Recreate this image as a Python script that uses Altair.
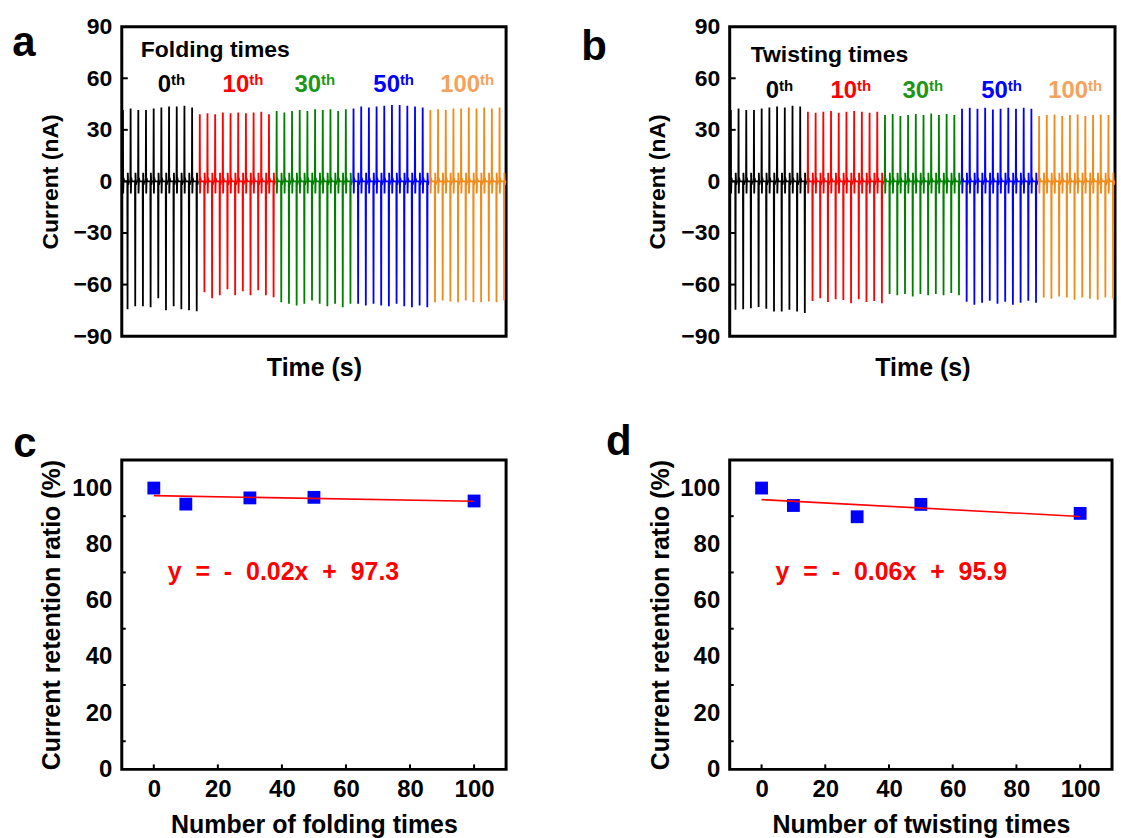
import altair as alt
import pandas as pd

# ---------------- DATA ----------------
segments = ["0th", "10th", "30th", "50th", "100th"]
seg_numbers = ["0", "10", "30", "50", "100"]
seg_line_colors = ["#000000", "#FF0000", "#008000", "#0000FF", "#F28A1A"]
seg_label_colors = ["#000000", "#FF0000", "#1E9619", "#0000FF", "#F4A25C"]

# positive / negative spike peaks (nA), 10 cycles per segment -- folding
fold_pos = [
    [41.5, 42.4, 41.6, 41.6, 42.4, 43.0, 43.6, 43.6, 44.0, 43.0],
    [39.1, 39.6, 39.1, 40.1, 39.6, 40.1, 39.6, 40.1, 40.6, 39.1],
    [41.0, 40.1, 41.0, 41.6, 41.0, 42.0, 41.6, 42.0, 41.0, 42.0],
    [42.4, 43.6, 43.0, 43.6, 44.0, 44.4, 44.4, 44.0, 43.6, 43.0],
    [41.6, 42.0, 41.6, 42.4, 42.4, 43.0, 42.4, 43.0, 42.4, 43.0],
]
fold_neg = [
    [-74.3, -72.6, -72.6, -73.2, -68.0, -74.9, -72.6, -74.3, -74.9, -75.5],
    [-64.5, -67.9, -66.2, -62.7, -66.2, -63.9, -66.2, -63.3, -66.2, -67.4],
    [-70.3, -71.2, -72.2, -71.2, -69.3, -71.2, -72.6, -71.2, -73.2, -71.2],
    [-71.2, -72.2, -71.2, -72.2, -72.6, -71.2, -72.6, -73.2, -72.2, -73.2],
    [-70.3, -69.3, -69.8, -70.3, -69.3, -70.3, -70.3, -69.8, -70.3, -69.3],
]
# -- twisting
twist_pos = [
    [41.5, 42.4, 41.6, 41.6, 42.4, 43.0, 43.6, 43.0, 44.0, 43.6],
    [40.5, 39.9, 40.5, 40.9, 39.9, 40.5, 40.9, 40.5, 39.9, 40.5],
    [38.6, 39.2, 38.0, 38.6, 39.2, 38.6, 39.5, 38.6, 39.2, 38.6],
    [42.2, 42.8, 42.2, 42.8, 41.8, 42.2, 42.8, 42.2, 42.8, 42.2],
    [38.0, 38.6, 38.9, 38.0, 38.6, 38.9, 38.0, 38.6, 38.9, 38.6],
]
twist_neg = [
    [-74.7, -74.3, -73.7, -73.1, -74.0, -75.6, -75.6, -74.7, -75.6, -76.6],
    [-69.5, -68.0, -70.2, -68.6, -69.0, -70.8, -68.6, -70.2, -69.5, -70.8],
    [-65.5, -66.2, -65.5, -66.9, -65.5, -66.2, -65.5, -66.2, -64.9, -66.2],
    [-70.0, -71.8, -70.6, -69.4, -71.2, -70.0, -71.8, -70.6, -69.4, -70.6],
    [-67.5, -68.2, -66.9, -67.5, -68.8, -67.5, -68.2, -68.8, -67.5, -68.2],
]

# retention ratio
times_n = [0, 10, 30, 50, 100]
fold_ratio = [100.0, 94.3, 96.5, 96.7, 95.4]
twist_ratio = [100.0, 93.8, 89.8, 94.2, 91.0]
fold_fit = (-0.02, 97.3)
twist_fit = (-0.06, 95.9)
fit_x = [0, 100]

current_ticks = [-90, -60, -30, 0, 30, 60, 90]
current_inner_ticks = [-60, -30, 0, 30, 60]
count_ticks = [0, 20, 40, 60, 80, 100]
ratio_ticks = [0, 20, 40, 60, 80, 100]
ratio_minor = [10, 30, 50, 70, 90]

# ---------------- STYLE / LAYOUT ----------------
FONT = "Liberation Sans"
W1, W2, H = 385, 386, 310
W4 = 383
num_px = [36, 101, 173, 252, 319]
NB = "\u00a0"

one = pd.DataFrame({"k": [0]})


def trace_df(pos, neg):
    rows = []
    for s, name in enumerate(segments):
        for k in range(10):
            T = 10 * s + k
            shape = [(0.0, 0.0), (0.12, 0.0), (0.15, pos[s][k]), (0.18, -7.0), (0.23, 2.0),
                     (0.32, 0.0), (0.72, 0.0), (0.75, neg[s][k]), (0.78, 5.0), (0.84, -2.0), (0.93, 0.0)]
            for dt, v in shape:
                rows.append({"t": T + dt, "current": v, "seg": name})
        rows.append({"t": 10.0 * (s + 1), "current": 0.0, "seg": name})
    return pd.DataFrame(rows)


def text_layer(txt, x, y, size, color="black", align="left", weight="bold"):
    return alt.Chart(one).mark_text(
        align=align, baseline="middle", font=FONT, fontSize=size, fontWeight=weight, color=color
    ).encode(x=alt.value(x), y=alt.value(y), text=alt.value(txt))


def current_panel(pos, neg, width, head, head_x, head_y, num_y, letter, lx, ly, ytx, anchor=False):
    df = trace_df(pos, neg)
    ysc = alt.Scale(domain=[-90, 90], nice=False, zero=False)
    yax = alt.Axis(values=current_ticks, title="Current (nA)", ticks=False, tickSize=0,
                   domain=False, grid=False, labelPadding=10, labelFontSize=23,
                   titleX=ytx, titleY=H / 2, titleAngle=270, titleAlign="center",
                   titleBaseline="middle", titleFontSize=23)
    line = alt.Chart(df).mark_line(strokeWidth=1.8).encode(
        x=alt.X("t:Q", scale=alt.Scale(domain=[0, 50], nice=False, zero=False),
                axis=alt.Axis(title="Time (s)", labels=False, ticks=False, tickSize=0, domain=False,
                              grid=False, titleX=width / 2, titleY=31, titleAlign="center",
                              titleBaseline="middle", titleFontSize=25)),
        y=alt.Y("current:Q", scale=ysc, axis=yax),
        color=alt.Color("seg:N", scale=alt.Scale(domain=segments, range=seg_line_colors), legend=None),
    )
    ticks = alt.Chart(pd.DataFrame({"current": current_inner_ticks})).mark_rule(
        color="black", strokeWidth=2).encode(
        y=alt.Y("current:Q", scale=ysc, axis=yax), x=alt.value(0), x2=alt.value(6))
    layers = [line, ticks, text_layer(head, head_x, head_y, 23)]
    for i, num in enumerate(seg_numbers):
        layers.append(text_layer(num, num_px[i], num_y, 24, seg_label_colors[i]))
        layers.append(text_layer("th", num_px[i] + 13.3 * len(num), num_y - 5, 15, seg_label_colors[i]))
    layers.append(text_layer(letter, lx, ly, 42, align="center"))
    if anchor:
        layers.append(alt.Chart(one).mark_rect(color="white").encode(
            x=alt.value(-120), x2=alt.value(-119), y=alt.value(-24), y2=alt.value(-23)))
    return alt.layer(*layers).properties(width=width, height=H)


def ratio_panel(ratio, fit, width, xtitle, letter, lx, ly, ytx):
    xsc = alt.Scale(domain=[-10, 110], nice=False, zero=False)
    ysc = alt.Scale(domain=[0, 110], nice=False, zero=False)
    xax = alt.Axis(values=count_ticks, title=xtitle, ticks=False, tickSize=0, domain=False,
                   grid=False, labelPadding=8, labelFontSize=24,
                   titleX=width / 2, titleY=55, titleAlign="center", titleBaseline="middle",
                   titleFontSize=25)
    yax = alt.Axis(values=ratio_ticks, title="Current retention ratio (%)", ticks=False,
                   tickSize=0, domain=False, grid=False, labelPadding=10, labelFontSize=24,
                   titleX=ytx, titleY=H / 2, titleAngle=270, titleAlign="center",
                   titleBaseline="middle", titleFontSize=25)
    pts = alt.Chart(pd.DataFrame({"n": times_n, "r": ratio})).mark_square(
        size=165, color="#0000FF", opacity=1).encode(
        x=alt.X("n:Q", scale=xsc, axis=xax),
        y=alt.Y("r:Q", scale=ysc, axis=yax),
    )
    slope, icpt = fit
    fit_df = pd.DataFrame({"n": fit_x, "r": [slope * x + icpt for x in fit_x]})
    fline = alt.Chart(fit_df).mark_line(color="#FF0000", strokeWidth=1.6).encode(
        x=alt.X("n:Q", scale=xsc, axis=xax), y=alt.Y("r:Q", scale=ysc, axis=yax))
    yt = alt.Chart(pd.DataFrame({"r": ratio_minor})).mark_rule(color="black", strokeWidth=2).encode(
        y=alt.Y("r:Q", scale=ysc, axis=yax), x=alt.value(0), x2=alt.value(4))
    xt = alt.Chart(pd.DataFrame({"n": count_ticks})).mark_rule(color="black", strokeWidth=2).encode(
        x=alt.X("n:Q", scale=xsc, axis=xax), y=alt.value(H), y2=alt.value(H - 5))
    sp = NB * 2
    eq = f"y{sp}={sp}-{sp}{abs(slope):.2f}x{sp}+{sp}{icpt}"
    layers = [pts, fline, yt, xt,
              text_layer(eq, 46, 112, 25, "#FF0000"),
              text_layer(letter, lx, ly, 42, align="center")]
    return alt.layer(*layers).properties(width=width, height=H)


pa = current_panel(fold_pos, fold_neg, W1, "Folding times", 19, 23, 58, "a", -98, 16, -71, anchor=True)
pb = current_panel(twist_pos, twist_neg, W2, "Twisting times", 21, 28, 64, "b", -136, 20, -72)
pc = ratio_panel(fold_ratio, fold_fit, W1, "Number of folding times", "c", -97, -16, -70)
pd_ = ratio_panel(twist_ratio, twist_fit, W4, "Number of twisting times", "d", -111, -18, -69)

chart = alt.concat(
    pa, pb, pc, pd_, columns=2, spacing={"row": 124, "column": 224}, bounds="flush", padding=0
).configure_view(
    stroke="black", strokeWidth=3
).configure_axis(
    labelFont=FONT, labelFontWeight="bold", labelColor="black",
    titleFont=FONT, titleFontWeight="bold", titleColor="black"
).properties(background="white")

chart.save("out.html", embed_options={"renderer": "svg", "actions": False})
